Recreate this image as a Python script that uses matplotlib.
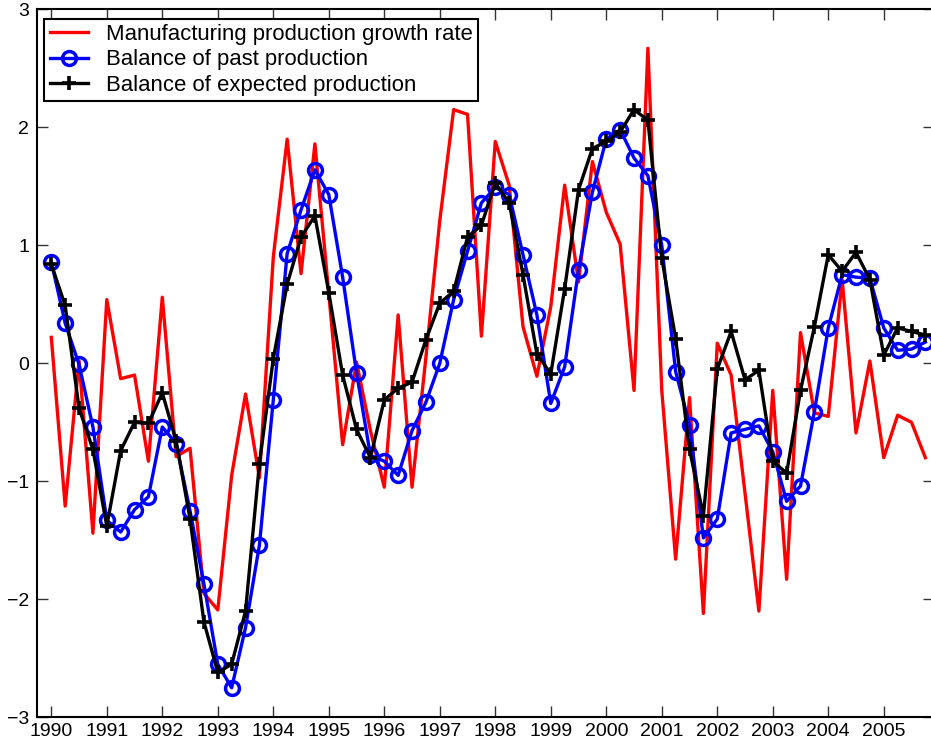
import numpy as np
import matplotlib
matplotlib.use("Agg")
import matplotlib.pyplot as plt

plt.rcParams['font.family'] = ['Liberation Sans', 'DejaVu Sans']

# Quarterly observations, 1990Q1 .. 2005Q4
start_year = 1990
n_quarters = 64

manufacturing_growth = [
    0.22, -1.21, 0.02, -1.44, 0.54, -0.13, -0.10, -0.83,
    0.56, -0.79, -0.72, -1.95, -2.09, -0.95, -0.26, -0.97,
    0.90, 1.90, 0.76, 1.86, 0.59, -0.69, 0.01, -0.57,
    -1.05, 0.41, -1.05, 0.05, 1.21, 2.15, 2.11, 0.23,
    1.88, 1.51, 0.31, -0.11, 0.48, 1.51, 0.69, 1.71,
    1.28, 1.01, -0.23, 2.67, -0.23, -1.66, -0.29, -2.12,
    0.17, -0.10, -1.10, -2.10, -0.23, -1.83, 0.26, -0.42,
    -0.45, 0.71, -0.59, 0.02, -0.80, -0.44, -0.50, -0.80,
]

past_production = [
    0.86, 0.34, -0.01, -0.54, -1.33, -1.43, -1.24, -1.13,
    -0.54, -0.68, -1.25, -1.87, -2.55, -2.75, -2.24, -1.54,
    -0.31, 0.93, 1.30, 1.64, 1.43, 0.73, -0.08, -0.78,
    -0.83, -0.95, -0.57, -0.33, 0.00, 0.54, 0.95, 1.36,
    1.49, 1.43, 0.92, 0.41, -0.34, -0.03, 0.79, 1.45,
    1.90, 1.98, 1.74, 1.59, 1.00, -0.07, -0.52, -1.48,
    -1.32, -0.59, -0.56, -0.53, -0.75, -1.17, -1.04, -0.41,
    0.30, 0.75, 0.73, 0.72, 0.30, 0.11, 0.12, 0.18,
]

expected_production = [
    0.84, 0.49, -0.38, -0.73, -1.38, -0.74, -0.50, -0.51,
    -0.25, -0.66, -1.32, -2.19, -2.62, -2.55, -2.10, -0.85,
    0.04, 0.67, 1.07, 1.25, 0.60, -0.10, -0.56, -0.80,
    -0.31, -0.21, -0.16, 0.20, 0.51, 0.61, 1.07, 1.17,
    1.53, 1.36, 0.75, 0.08, -0.09, 0.63, 1.47, 1.82,
    1.88, 1.96, 2.15, 2.06, 0.89, 0.21, -0.73, -1.29,
    -0.05, 0.27, -0.14, -0.06, -0.83, -0.93, -0.23, 0.31,
    0.92, 0.78, 0.94, 0.71, 0.07, 0.30, 0.27, 0.24,
]

year_ticks = list(range(1990, 2006))
value_ticks = [-3, -2, -1, 0, 1, 2, 3]

t = start_year + np.arange(n_quarters) * 0.25

fig = plt.figure(figsize=(9.31, 7.46), dpi=100)
ax = fig.add_axes([0.0402, 0.0385, 0.9627, 0.949])

lw = 2.4
ax.plot(t, manufacturing_growth, color='#ff0000', lw=lw,
        label='Manufacturing production growth rate', zorder=2)
ax.plot(t, past_production, color='#0000ff', lw=lw, marker='o',
        markersize=10, markerfacecolor='none', markeredgewidth=2.5,
        label='Balance of past production', zorder=3)
ax.plot(t, expected_production, color='black', lw=lw, marker='+',
        markersize=10, markeredgewidth=2.6,
        label='Balance of expected production', zorder=4)

ax.set_xlim(1989.75, 2005.9)
ax.set_ylim(-3, 3)
ax.set_xticks(year_ticks)
ax.set_xticklabels([str(y) for y in year_ticks])
ax.set_yticks(value_ticks)
ax.set_yticklabels([str(v).replace('-', '\u2212') for v in value_ticks])

ax.tick_params(axis='both', direction='in', length=8, width=1.0,
               labelsize=14, top=True, right=True, color='#333333')
ax.tick_params(axis='x', pad=4)
ax.tick_params(axis='y', pad=6)
for side in ('left', 'bottom', 'top'):
    ax.spines[side].set_linewidth(1.5)
ax.spines['right'].set_visible(False)

leg = ax.legend(loc='upper left', bbox_to_anchor=(0.0074, 0.987),
                borderaxespad=0, fontsize=15.9, fancybox=False,
                edgecolor='black', framealpha=1, handlelength=1.75,
                handletextpad=0.8, labelspacing=0.2, borderpad=0.25)
leg.get_frame().set_linewidth(1.5)

fig.savefig('out.png', dpi=100)
